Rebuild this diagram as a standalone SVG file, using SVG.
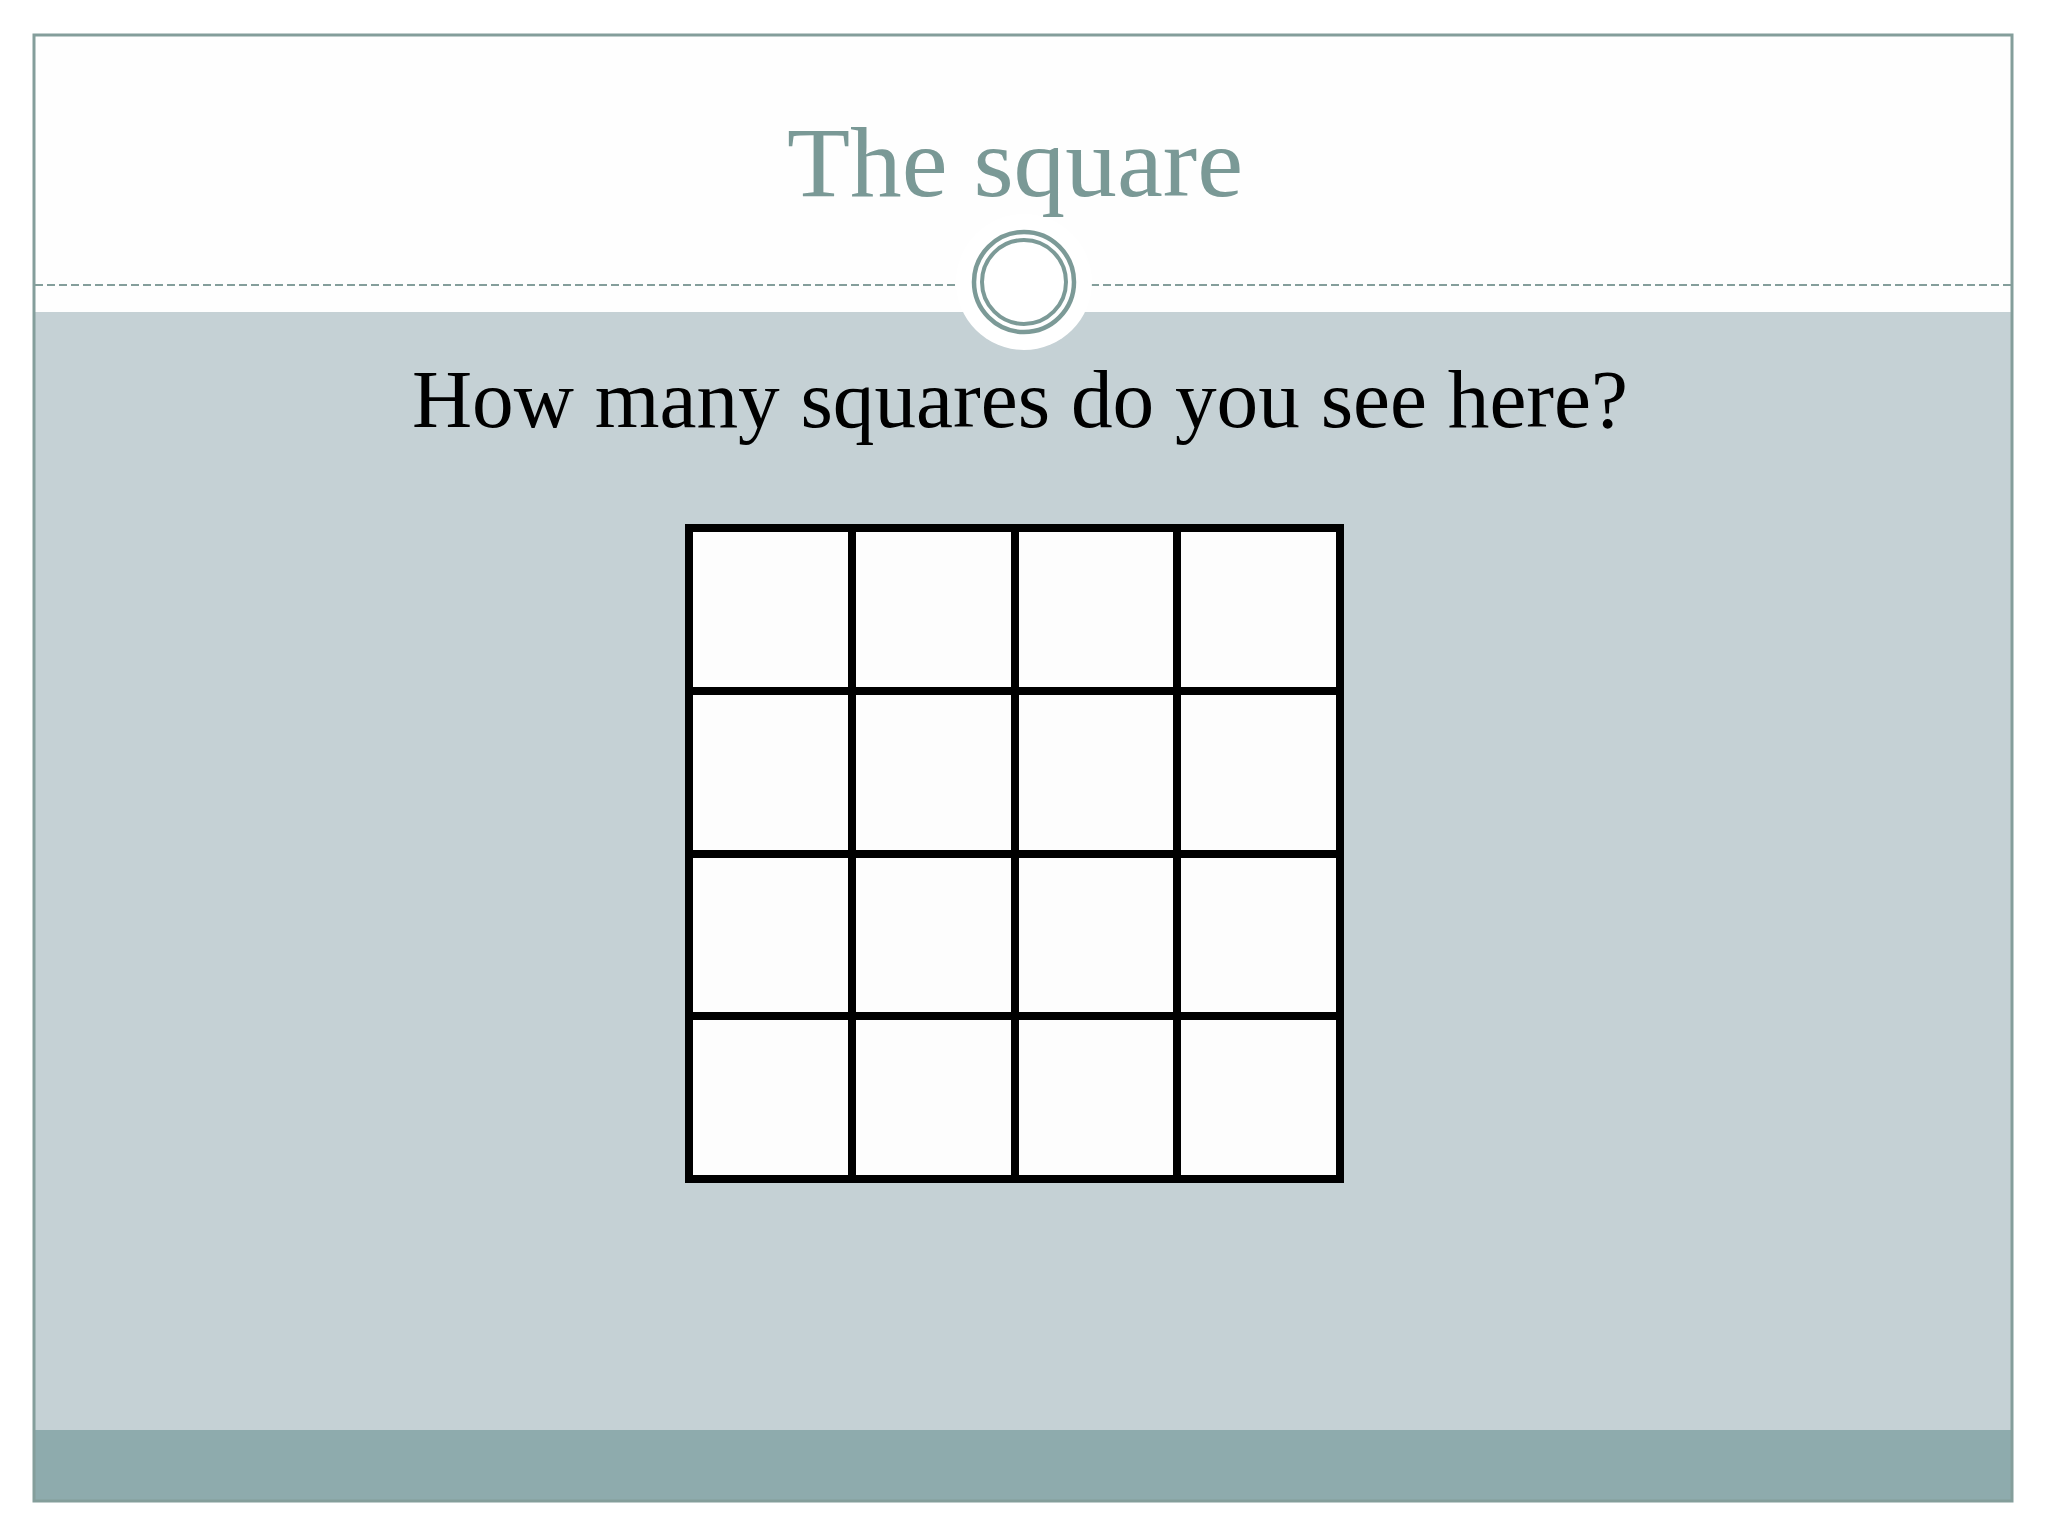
<svg xmlns="http://www.w3.org/2000/svg" width="2048" height="1536" viewBox="0 0 2048 1536">
  <style>
    .ring { fill: none; stroke: #7c9a97; }
    .grid line { stroke: #000000; stroke-width: 8; stroke-linecap: square; }
    .cell { fill: #fdfdfd; }
  </style>
  <rect x="0" y="0" width="2048" height="1536" fill="#ffffff"/>
  <g id="slide">
    <rect x="34" y="35" width="1978" height="277" fill="#fefefe"/>
    <rect x="34" y="312" width="1978" height="1118" fill="#c5d1d5"/>
    <rect x="34" y="1430" width="1978" height="71" fill="#8eabad"/>
    <line x1="35" y1="285" x2="2011" y2="285" stroke="#849e9b" stroke-width="2" stroke-dasharray="8 4"/>
    <rect x="34" y="35" width="1978" height="1466" fill="none" stroke="#849e9b" stroke-width="3"/>
  </g>
  <g id="badge">
    <circle cx="1024" cy="282" r="68" fill="#ffffff"/>
    <circle class="ring" cx="1024" cy="282" r="50" stroke-width="4.5"/>
    <circle class="ring" cx="1024" cy="282" r="42" stroke-width="4"/>
  </g>
  <g id="title">
    <text x="1015" y="196" text-anchor="middle" font-family="'Liberation Serif', 'Times New Roman', serif" font-size="99" fill="#7a9996" textLength="456" lengthAdjust="spacingAndGlyphs">The square</text>
  </g>
  <g id="question">
    <text x="1020" y="427" text-anchor="middle" font-family="'Liberation Serif', 'Times New Roman', serif" font-size="82" fill="#000000" textLength="1216" lengthAdjust="spacingAndGlyphs">How many squares do you see here?</text>
  </g>
  <g id="grid" class="grid">
    <rect class="cell" x="689" y="528" width="651" height="651"/>
    <line x1="689" y1="528" x2="1340" y2="528"/>
    <line x1="689" y1="691" x2="1340" y2="691"/>
    <line x1="689" y1="854" x2="1340" y2="854"/>
    <line x1="689" y1="1016" x2="1340" y2="1016"/>
    <line x1="689" y1="1179" x2="1340" y2="1179"/>
    <line x1="689" y1="528" x2="689" y2="1179"/>
    <line x1="852" y1="528" x2="852" y2="1179"/>
    <line x1="1015" y1="528" x2="1015" y2="1179"/>
    <line x1="1177" y1="528" x2="1177" y2="1179"/>
    <line x1="1340" y1="528" x2="1340" y2="1179"/>
  </g>
</svg>
